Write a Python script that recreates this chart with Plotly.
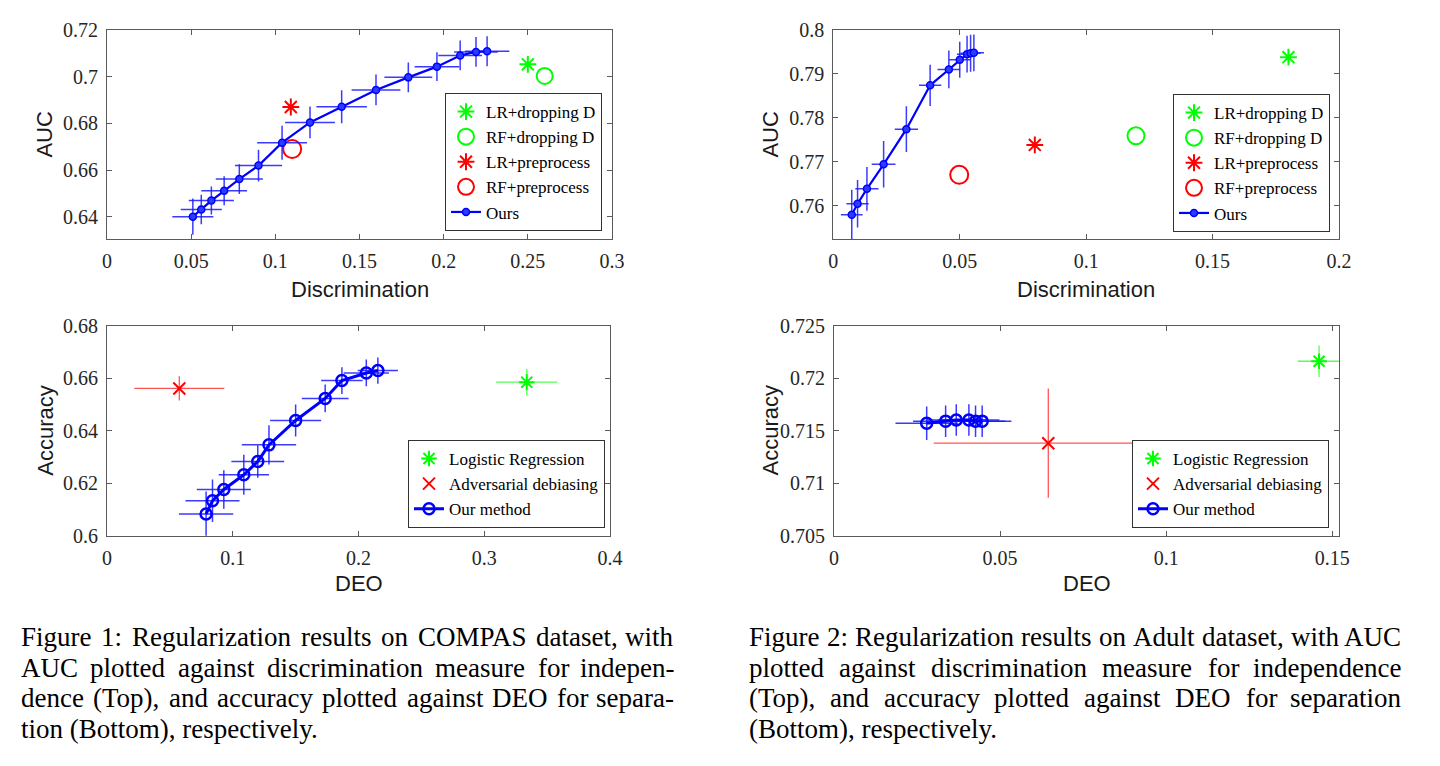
import plotly.graph_objects as go

# page is 1440x766; the browser body keeps its 8px margin, so the figure is
# drawn 16px smaller and every position below is given in page pixels
PAGE_OFF = 8
FW, FH = 1424, 750

# ---------------- data ----------------
# Figure 1, top: COMPAS, AUC vs discrimination
compas_disc = [0.051, 0.056, 0.062, 0.0696, 0.0786, 0.090, 0.104, 0.1206, 0.1394, 0.1598, 0.179, 0.196, 0.2098, 0.2192, 0.2258]
compas_auc = [0.640, 0.6431, 0.6469, 0.6511, 0.6561, 0.6619, 0.6717, 0.6804, 0.6871, 0.6943, 0.6997, 0.7043, 0.7091, 0.7106, 0.7109]
compas_disc_err = [0.0122, 0.0122, 0.0134, 0.0136, 0.014, 0.014, 0.0148, 0.0148, 0.015, 0.0145, 0.0142, 0.0133, 0.013, 0.013, 0.0132]
compas_auc_err = [0.0078, 0.0063, 0.006, 0.0062, 0.0064, 0.0068, 0.0073, 0.0068, 0.0071, 0.0066, 0.0064, 0.0062, 0.0064, 0.0064, 0.0064]
compas_lr_drop = [0.25, 0.7053]
compas_rf_drop = [0.26, 0.7003]
compas_lr_pre = [0.1092, 0.687]
compas_rf_pre = [0.11, 0.669]

# Figure 2, top: Adult, AUC vs discrimination
adult_disc = [0.0073, 0.0096, 0.0133, 0.0199, 0.0289, 0.0383, 0.0457, 0.050, 0.0529, 0.0543, 0.0556]
adult_auc = [0.7579, 0.7604, 0.7638, 0.7694, 0.7774, 0.7874, 0.7910, 0.7932, 0.7945, 0.7947, 0.7948]
adult_disc_err = [0.0043, 0.0044, 0.0046, 0.0047, 0.0046, 0.0044, 0.0045, 0.0042, 0.004, 0.004, 0.004]
adult_auc_err = [0.0057, 0.0054, 0.005, 0.0053, 0.0052, 0.0047, 0.0043, 0.0041, 0.0042, 0.0042, 0.0042]
adult_lr_drop = [0.18, 0.7938]
adult_rf_drop = [0.1197, 0.7759]
adult_lr_pre = [0.0797, 0.7738]
adult_rf_pre = [0.0498, 0.767]

# Figure 1, bottom: COMPAS, accuracy vs DEO
compas_deo = [0.0788, 0.0839, 0.0929, 0.1088, 0.1199, 0.1288, 0.15, 0.1735, 0.1868, 0.2062, 0.2154]
compas_acc = [0.6083, 0.6133, 0.6176, 0.6232, 0.6283, 0.6346, 0.6439, 0.6523, 0.6591, 0.662, 0.6629]
compas_deo_err = [0.0216, 0.0215, 0.0215, 0.02, 0.021, 0.0216, 0.0203, 0.0186, 0.0165, 0.018, 0.016]
compas_acc_err = [0.0085, 0.0081, 0.0073, 0.0076, 0.0062, 0.0075, 0.0061, 0.0053, 0.0051, 0.0051, 0.005]
compas_logreg = [0.3338, 0.6585]
compas_logreg_err = [0.0243, 0.005]
compas_adv = [0.0575, 0.6561]
compas_adv_err = [0.0358, 0.0046]

# Figure 2, bottom: Adult, accuracy vs DEO
adult_deo = [0.0279, 0.0336, 0.0368, 0.0406, 0.0426, 0.0446]
adult_acc = [0.7157, 0.7159, 0.716, 0.716, 0.7159, 0.7159]
adult_deo_err = [0.0094, 0.0098, 0.009, 0.0092, 0.009, 0.0088]
adult_acc_err = [0.0016, 0.0015, 0.0015, 0.0015, 0.0015, 0.0015]
adult_logreg = [0.146, 0.7216]
adult_logreg_err = [0.0064, 0.0015]
adult_adv = [0.0645, 0.7138]
adult_adv_err = [0.0345, 0.0052]

caption1 = ["Figure 1: Regularization results on COMPAS dataset, with",
            "AUC plotted against discrimination measure for indepen-",
            "dence (Top), and accuracy plotted against DEO for separa-",
            "tion (Bottom), respectively."]
caption2 = ["Figure 2: Regularization results on Adult dataset, with AUC",
            "plotted against discrimination measure for independence",
            "(Top), and accuracy plotted against DEO for separation",
            "(Bottom), respectively."]

# ---------------- helpers ----------------
def px_x(p):
    return (p - PAGE_OFF) / FW


def px_y(p):
    return 1 - (p - PAGE_OFF) / FH


GREEN = "#00ff00"
RED = "#ff0000"
BLUE = "#0000ff"
AXC = "#5a5a5a"
SERIF = "Liberation Serif"
SANS = "Liberation Sans"
EBLUE = "rgba(25,25,255,0.85)"

fig = go.Figure()


def axis(rng, dtick, p0, p1, anchor, horizontal=True):
    d = dict(range=rng, dtick=dtick, tick0=0, anchor=anchor, automargin=False,
             showline=True, linecolor=AXC, linewidth=1, mirror="ticks",
             ticks="inside", ticklen=5, tickcolor=AXC,
             showgrid=False, zeroline=False, ticklabelstandoff=4,
             tickfont=dict(family=SERIF, size=20, color="#262626"))
    if horizontal:
        d["domain"] = [px_x(p0), px_x(p1)]
    else:
        d["domain"] = [px_y(p1), px_y(p0)]
    return d


def errbar(arr, color, thick=1.5):
    return dict(type="data", array=arr, width=0, thickness=thick, color=color)


def single(pt, name, symbol, size, color, xa, ya, leg, err=None, ecolor=None):
    kw = {}
    if err is not None:
        kw["error_x"] = errbar([err[0]], ecolor, 1.3)
        kw["error_y"] = errbar([err[1]], ecolor, 1.3)
    fig.add_trace(go.Scatter(
        x=[pt[0]], y=[pt[1]], mode="markers", name=name,
        marker=dict(symbol=symbol, size=size, color=color, line=dict(color=color, width=2)),
        xaxis=xa, yaxis=ya, legend=leg, **kw))


def ours_small(xs, ys, xe, ye, xa, ya, leg):
    fig.add_trace(go.Scatter(
        x=xs, y=ys, mode="lines+markers", name="Ours",
        line=dict(color=BLUE, width=2.2),
        marker=dict(symbol="circle", size=7, color="#2a3cff", line=dict(color=BLUE, width=1.5)),
        error_x=errbar(xe, EBLUE), error_y=errbar(ye, EBLUE),
        xaxis=xa, yaxis=ya, legend=leg))


def ours_big(xs, ys, xe, ye, xa, ya, leg):
    fig.add_trace(go.Scatter(
        x=xs, y=ys, mode="lines+markers", name="Our method",
        line=dict(color=BLUE, width=3),
        marker=dict(symbol="circle-open", size=11, color=BLUE, line=dict(color=BLUE, width=2.5)),
        error_x=errbar(xe, EBLUE), error_y=errbar(ye, EBLUE),
        xaxis=xa, yaxis=ya, legend=leg))


# ---- top left: COMPAS ----
single(compas_lr_drop, "LR+dropping D", "asterisk-open", 14, GREEN, "x", "y", "legend")
single(compas_rf_drop, "RF+dropping D", "circle-open", 16, GREEN, "x", "y", "legend")
single(compas_lr_pre, "LR+preprocess", "asterisk-open", 14, RED, "x", "y", "legend")
single(compas_rf_pre, "RF+preprocess", "circle-open", 18, RED, "x", "y", "legend")
ours_small(compas_disc, compas_auc, compas_disc_err, compas_auc_err, "x", "y", "legend")

# ---- top right: Adult ----
single(adult_lr_drop, "LR+dropping D", "asterisk-open", 14, GREEN, "x2", "y2", "legend2")
single(adult_rf_drop, "RF+dropping D", "circle-open", 17, GREEN, "x2", "y2", "legend2")
single(adult_lr_pre, "LR+preprocess", "asterisk-open", 14, RED, "x2", "y2", "legend2")
single(adult_rf_pre, "RF+preprocess", "circle-open", 18, RED, "x2", "y2", "legend2")
ours_small(adult_disc, adult_auc, adult_disc_err, adult_auc_err, "x2", "y2", "legend2")

# ---- bottom left: COMPAS ----
single(compas_logreg, "Logistic Regression", "asterisk-open", 13, GREEN, "x3", "y3", "legend3",
       compas_logreg_err, "rgba(40,255,40,0.8)")
single(compas_adv, "Adversarial debiasing", "x-thin-open", 12, RED, "x3", "y3", "legend3",
       compas_adv_err, "rgba(255,40,40,0.8)")
ours_big(compas_deo, compas_acc, compas_deo_err, compas_acc_err, "x3", "y3", "legend3")

# ---- bottom right: Adult ----
single(adult_logreg, "Logistic Regression", "asterisk-open", 13, GREEN, "x4", "y4", "legend4",
       adult_logreg_err, "rgba(40,255,40,0.8)")
single(adult_adv, "Adversarial debiasing", "x-thin-open", 12, RED, "x4", "y4", "legend4",
       adult_adv_err, "rgba(255,40,40,0.8)")
ours_big(adult_deo, adult_acc, adult_deo_err, adult_acc_err, "x4", "y4", "legend4")


def legend_box(right_px, bottom_px):
    return dict(x=px_x(right_px), y=px_y(bottom_px), xanchor="right", yanchor="bottom",
                bgcolor="white", bordercolor="#333333", borderwidth=1,
                font=dict(family=SERIF, size=17, color="black"),
                itemclick=False, itemdoubleclick=False)


fig.update_layout(
    width=FW, height=FH,
    margin=dict(l=0, r=0, t=0, b=0, autoexpand=False),
    paper_bgcolor="white", plot_bgcolor="white",
    showlegend=True,
    xaxis=axis([0, 0.3], 0.05, 107, 612, "y"),
    yaxis=axis([0.6303, 0.72], 0.02, 30, 239.3, "x", horizontal=False),
    xaxis2=axis([0, 0.2], 0.05, 833.3, 1339, "y2"),
    yaxis2=axis([0.7523, 0.8], 0.01, 30, 239.3, "x2", horizontal=False),
    xaxis3=axis([0, 0.4], 0.1, 107, 610, "y3"),
    yaxis3=axis([0.6, 0.68], 0.02, 325.7, 535.7, "x3", horizontal=False),
    xaxis4=axis([0, 0.152], 0.05, 834, 1339, "y4"),
    yaxis4=axis([0.705, 0.725], 0.005, 325.5, 535.7, "x4", horizontal=False),
    legend=legend_box(602, 231),
    legend2=legend_box(1330, 232),
    legend3=legend_box(605, 528),
    legend4=legend_box(1329, 528),
)

# axis titles
title_font = dict(family=SANS, size=22, color="#1a1a1a")
for txt, x, y, ang in [("Discrimination", 359.5, 289, 0), ("Discrimination", 1086, 289, 0),
                       ("DEO", 358.5, 583, 0), ("DEO", 1086.5, 583, 0),
                       ("AUC", 45, 134.6, -90), ("AUC", 771, 134.6, -90),
                       ("Accuracy", 46, 430.7, -90), ("Accuracy", 770, 430.5, -90)]:
    fig.add_annotation(text=txt, x=px_x(x), y=px_y(y), xref="paper", yref="paper",
                       showarrow=False, textangle=ang, font=title_font,
                       xanchor="center", yanchor="middle")

# captions, justified word by word (Times metrics plus a couple of kern pairs)
TIMES = {" ": 250, "(": 333, ")": 333, "+": 564, ",": 250, "-": 333, ".": 250, ":": 278,
         "A": 722, "B": 667, "C": 667, "D": 722, "E": 611, "F": 556, "G": 722, "H": 722,
         "I": 333, "M": 889, "O": 722, "P": 556, "R": 667, "S": 556, "T": 611, "U": 722,
         "a": 444, "b": 500, "c": 444, "d": 500, "e": 444, "f": 333, "g": 500, "h": 500,
         "i": 278, "j": 278, "k": 500, "l": 278, "m": 778, "n": 500, "o": 500, "p": 500,
         "q": 500, "r": 333, "s": 389, "t": 278, "u": 500, "v": 500, "w": 722, "x": 500,
         "y": 500, "z": 444}
KERN = {"PA": -92, "To": -80}
CAP_SIZE = 27
cap_font = dict(family=SERIF, size=CAP_SIZE, color="black")


def word_w(s):
    units = sum(TIMES.get(c, 500) for c in s)
    units += sum(KERN.get(s[k:k + 2], 0) for k in range(len(s) - 1))
    return units * CAP_SIZE / 1000


def add_caption(lines, left, right, top, step):
    for i, line in enumerate(lines):
        y = px_y(top + i * step)
        words = line.split(" ")
        if i == len(lines) - 1:
            fig.add_annotation(text=line, x=px_x(left), y=y, xref="paper", yref="paper",
                               showarrow=False, font=cap_font, xanchor="left", yanchor="middle",
                               borderpad=0)
            continue
        widths = [word_w(w) for w in words]
        gap = (right - left - sum(widths)) / (len(words) - 1)
        x = left
        for j, (w, wd) in enumerate(zip(words, widths)):
            last = j == len(words) - 1
            fig.add_annotation(text=w, x=px_x(right if last else x), y=y,
                               xref="paper", yref="paper", showarrow=False, font=cap_font,
                               xanchor="right" if last else "left",
                               yanchor="middle", borderpad=0)
            x += wd + gap


add_caption(caption1, 20, 675, 637, 30.7)
add_caption(caption2, 748, 1402, 637, 30.7)

fig.write_html("out.html", config={"displayModeBar": False})
